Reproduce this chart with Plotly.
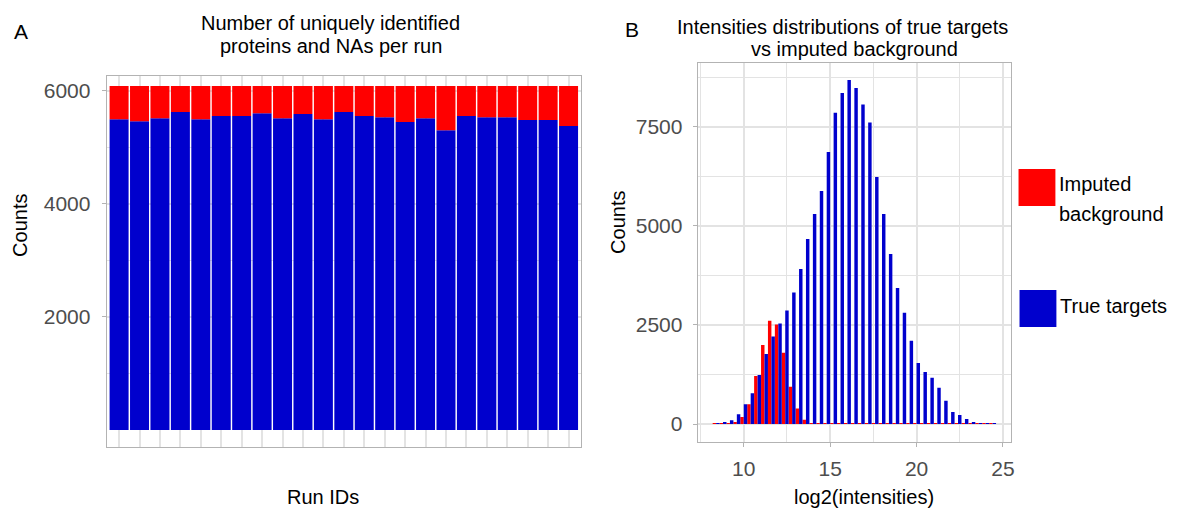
import plotly.graph_objects as go

W, H = 1178, 512
FONT = "Liberation Sans"

# ---- Panel A: proteins identified / missing per run ----
run_ids = [f"R{i:02d}" for i in range(1, 24)]
true_targets_per_run = [5500, 5465, 5518, 5629, 5500, 5559, 5559, 5606, 5518, 5594, 5500, 5629,
                        5559, 5536, 5453, 5518, 5306, 5559, 5536, 5536, 5488, 5488, 5382]
na_per_run = [588, 623, 570, 459, 588, 529, 529, 482, 570, 494, 588, 459,
              529, 552, 635, 570, 782, 529, 552, 552, 600, 600, 706]

# ---- Panel B: histogram of log2 intensities (bin centres, counts) ----
bin_centers = [8.4, 8.8, 9.2, 9.6, 10.0, 10.4, 10.8, 11.2, 11.6, 12.0, 12.4, 12.8, 13.2, 13.6,
               14.0, 14.4, 14.8, 15.2, 15.6, 16.0, 16.4, 16.8, 17.2, 17.6, 18.0, 18.4, 18.8,
               19.2, 19.6, 20.0, 20.4, 20.8, 21.2, 21.6, 22.0, 22.4, 22.8, 23.2, 23.6, 24.0, 24.4]
imputed_counts = [15, 10, 17, 42, 177, 496, 1211, 1993, 2607, 2510, 1800, 940, 390, 110,
                  25, 25, 25, 25, 25, 25, 25, 25, 25, 25, 25, 25, 25,
                  25, 25, 25, 25, 25, 25, 25, 25, 25, 25, 25, 25, 25, 25]
true_counts = [15, 35, 92, 244, 496, 774, 1236, 1766, 2210, 2535, 2865, 3315, 3911, 4668,
               5298, 5879, 6863, 7855, 8351, 8679, 8477, 8057, 7603, 6232, 5300, 4289, 3431,
               2805, 2100, 1539, 1312, 1165, 912, 585, 303, 230, 126, 50, 17, 8, 8]
bin_width = 0.4

countsA_ticks = [2000, 4000, 6000]
countsB_ticks = [0, 2500, 5000, 7500]
legend_labels = ["Imputed", "background", "True targets"]

RED = "#FF0000"
BLUE = "#0000CD"
GRID = "#e3e3e3"
BORDER = "#b3b3b3"
TICKTXT = "#4d4d4d"


def px(x):
    return x / W


def py(y):
    return 1 - y / H


fig = go.Figure()

# stacked bars: true targets at the bottom, missing values on top
fig.add_trace(go.Bar(x=run_ids, y=true_targets_per_run, width=0.93,
                     marker=dict(color=BLUE, line=dict(width=0)),
                     xaxis="x", yaxis="y", showlegend=False))
fig.add_trace(go.Bar(x=run_ids, y=na_per_run, base=true_targets_per_run, width=0.93,
                     marker=dict(color=RED, line=dict(width=0)),
                     xaxis="x", yaxis="y", showlegend=False))

# dodged histogram bars: imputed left half of each bin, true targets right half
fig.add_trace(go.Bar(x=bin_centers, y=imputed_counts, offset=-bin_width / 2, width=bin_width / 2,
                     marker=dict(color=RED, line=dict(width=0)),
                     xaxis="x2", yaxis="y2", showlegend=False))
fig.add_trace(go.Bar(x=bin_centers, y=true_counts, offset=0, width=bin_width / 2,
                     marker=dict(color=BLUE, line=dict(width=0)),
                     xaxis="x2", yaxis="y2", showlegend=False))

common_axis = dict(showline=True, mirror=True, linecolor=BORDER, linewidth=1,
                   gridcolor=GRID, gridwidth=1.5, zeroline=False,
                   tickfont=dict(family=FONT, size=21, color=TICKTXT),
                   tickcolor=BORDER, ticklen=4, tickwidth=1)

fig.update_layout(
    width=W, height=H,
    margin=dict(l=0, r=0, t=0, b=0),
    paper_bgcolor="white", plot_bgcolor="white",
    barmode="overlay",
    font=dict(family=FONT, color="black"),
    xaxis=dict(common_axis, domain=[px(107), px(583)], type="category",
               range=[-0.61, 22.61], showticklabels=False, ticks=""),
    yaxis=dict(common_axis, domain=[py(447), py(76)], range=[-301, 6265],
               tickmode="array", tickvals=countsA_ticks,
               ticktext=[str(v) for v in countsA_ticks],
               ticks="outside", ticklabelstandoff=7,
               minor=dict(tickmode="array", tickvals=[1000, 3000, 5000],
                          showgrid=True, gridcolor=GRID, gridwidth=1, ticks="")),
    xaxis2=dict(common_axis, domain=[px(700), px(1014)], range=[7.33, 25.44],
                tickmode="array", tickvals=[10, 15, 20, 25],
                ticks="outside", ticklabelstandoff=4,
                minor=dict(tickmode="array", tickvals=[7.5, 12.5, 17.5, 22.5],
                           showgrid=True, gridcolor=GRID, gridwidth=1, ticks=""),
                anchor="y2"),
    yaxis2=dict(common_axis, domain=[py(442), py(63)], range=[-454, 9107],
                tickmode="array", tickvals=countsB_ticks,
                ticktext=[str(v) for v in countsB_ticks],
                ticks="outside", ticklabelstandoff=6,
                minor=dict(tickmode="array", tickvals=[1250, 3750, 6250, 8750],
                           showgrid=True, gridcolor=GRID, gridwidth=1, ticks=""),
                anchor="x2"),
)

annotations = []


def add_text(text, x, y, size=20, xanchor="center", yanchor="middle", angle=0, color="black"):
    annotations.append(dict(text=text, x=px(x), y=py(y), xref="paper", yref="paper",
                            showarrow=False, xanchor=xanchor, yanchor=yanchor,
                            textangle=angle, font=dict(family=FONT, size=size, color=color)))


# panel tags
add_text("A", 21, 31, size=21)
add_text("B", 634, 29, size=21)

# titles
add_text("Number of uniquely identified", 332, 23)
add_text("proteins and NAs per run", 332, 46)
add_text("Intensities distributions of true targets", 845, 27)
add_text("vs imputed background", 857, 49)

# axis titles
add_text("Counts", 20, 225, angle=-90)
add_text("Run IDs", 324, 497)
add_text("Counts", 620, 222, angle=-90)
add_text("log2(intensities)", 867, 497)

# legend
add_text(legend_labels[0], 1061, 184, xanchor="left")
add_text(legend_labels[1], 1061, 214, xanchor="left")
add_text(legend_labels[2], 1062, 306, xanchor="left")

fig.update_layout(annotations=annotations)

fig.update_layout(shapes=[
    dict(type="rect", xref="paper", yref="paper", x0=px(1022), x1=px(1059),
         y0=py(206), y1=py(169), fillcolor=RED, line=dict(width=0)),
    dict(type="rect", xref="paper", yref="paper", x0=px(1023), x1=px(1060),
         y0=py(327), y1=py(290), fillcolor=BLUE, line=dict(width=0)),
])

fig.write_html("out.html")
